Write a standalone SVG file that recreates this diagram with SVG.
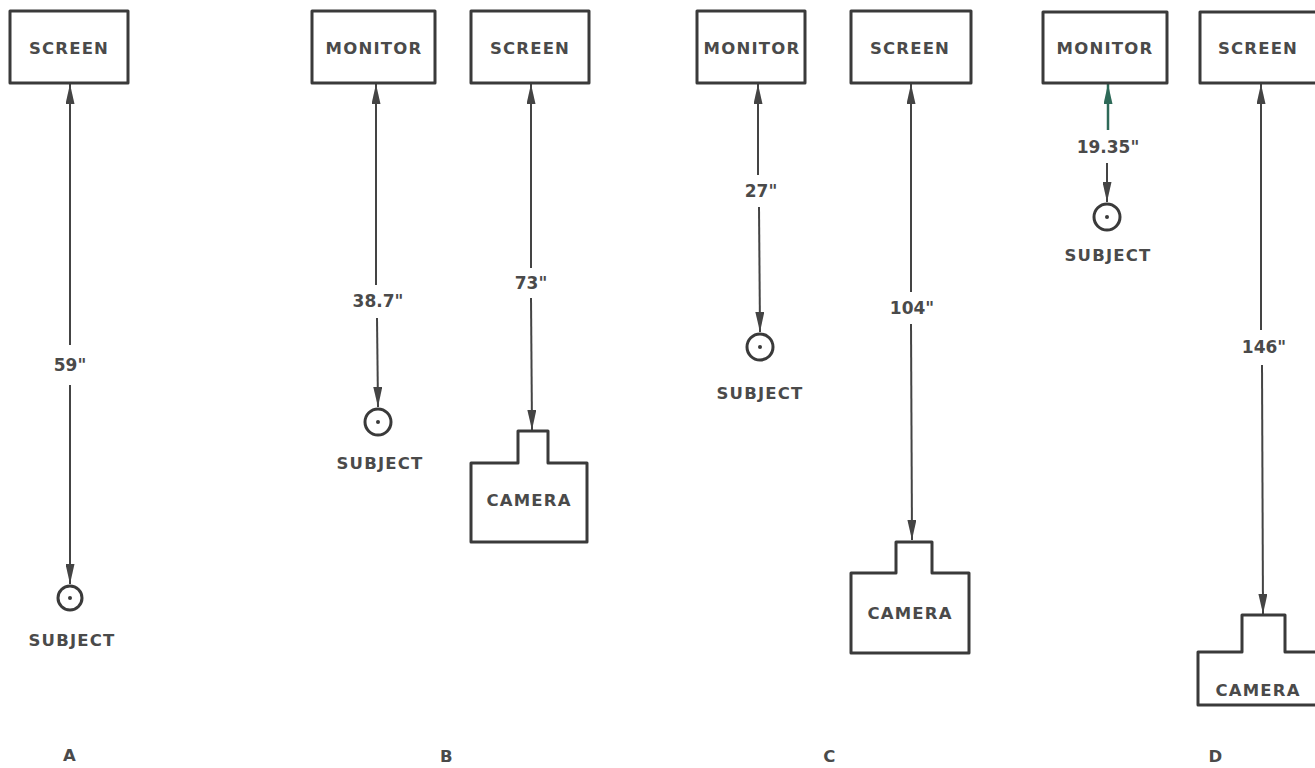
<svg xmlns="http://www.w3.org/2000/svg" width="1315" height="768" viewBox="0 0 1315 768">
<defs>
<style>
.box{fill:none;stroke:#3a3a3a;stroke-width:3;stroke-linejoin:round}
.ln{stroke:#444;stroke-width:2;fill:none}
.t{font-family:"DejaVu Sans",sans-serif;font-weight:bold;font-size:16.5px;fill:#4a4a4a;text-anchor:middle;dominant-baseline:central;letter-spacing:1.2px}
.lab{font-family:"DejaVu Sans",sans-serif;font-weight:bold;font-size:17px;fill:#4a4a4a;text-anchor:middle;dominant-baseline:central}
.subj{fill:none;stroke:#3a3a3a;stroke-width:3}
</style>
<marker id="ah" viewBox="0 0 20 9" refX="20" refY="4.5" markerWidth="20" markerHeight="9" markerUnits="userSpaceOnUse" orient="auto">
<path d="M0,0 L20,4.5 L0,9 Z" fill="#444"/>
</marker>
<marker id="ahg" viewBox="0 0 20 9" refX="20" refY="4.5" markerWidth="20" markerHeight="9" markerUnits="userSpaceOnUse" orient="auto">
<path d="M0,0 L20,4.5 L0,9 Z" fill="#2e6a58"/>
</marker>
</defs>
<rect width="1315" height="768" fill="#fff"/>

<g id="connectors">
<line class="ln" x1="70" y1="345" x2="70" y2="84" marker-end="url(#ah)"/>
<line class="ln" x1="70" y1="385" x2="70" y2="584" marker-end="url(#ah)"/>
<line class="ln" x1="376" y1="285" x2="376" y2="84" marker-end="url(#ah)"/>
<line class="ln" x1="377" y1="318" x2="378" y2="407" marker-end="url(#ah)"/>
<line class="ln" x1="531" y1="268" x2="531" y2="84" marker-end="url(#ah)"/>
<line class="ln" x1="531" y1="298" x2="532" y2="430" marker-end="url(#ah)"/>
<line class="ln" x1="758" y1="175" x2="758" y2="84" marker-end="url(#ah)"/>
<line class="ln" x1="759" y1="207" x2="760" y2="332" marker-end="url(#ah)"/>
<line class="ln" x1="911" y1="292" x2="911" y2="84" marker-end="url(#ah)"/>
<line class="ln" x1="911" y1="324" x2="912" y2="540" marker-end="url(#ah)"/>
<line x1="1108" y1="130" x2="1108" y2="84" stroke="#2e6a58" stroke-width="2.5" marker-end="url(#ahg)"/>
<line class="ln" x1="1107" y1="163" x2="1107" y2="202" marker-end="url(#ah)"/>
<line class="ln" x1="1261" y1="330" x2="1261" y2="84" marker-end="url(#ah)"/>
<line class="ln" x1="1262" y1="365" x2="1263" y2="614" marker-end="url(#ah)"/>
<text class="lab" x="70" y="365">59"</text>
<text class="lab" x="378" y="301">38.7"</text>
<text class="lab" x="531" y="283">73"</text>
<text class="lab" x="761" y="191">27"</text>
<text class="lab" x="912" y="308">104"</text>
<text class="lab" x="1108" y="147">19.35"</text>
<text class="lab" x="1264" y="347">146"</text>
</g>

<g id="a-screen"><rect class="box" x="10" y="11" width="118" height="72"/><text class="t" x="69" y="48">SCREEN</text></g>
<g id="a-subject"><circle class="subj" cx="70" cy="598" r="12"/><circle cx="70" cy="598" r="2" fill="#3a3a3a"/><text class="t" x="72" y="640">SUBJECT</text></g>
<text class="t" x="70" y="755">A</text>

<g id="b-monitor"><rect class="box" x="312" y="11" width="123" height="72"/><text class="t" x="374" y="48">MONITOR</text></g>
<g id="b-subject"><circle class="subj" cx="378" cy="422" r="13"/><circle cx="378" cy="422" r="2" fill="#3a3a3a"/><text class="t" x="380" y="463">SUBJECT</text></g>
<g id="b-screen"><rect class="box" x="471" y="11" width="118" height="72"/><text class="t" x="530" y="48">SCREEN</text></g>
<g id="b-camera"><path class="box" d="M518,463 V431 H548 V463 H587 V542 H471 V463 Z"/><text class="t" x="529" y="500">CAMERA</text></g>
<text class="t" x="447" y="756">B</text>

<g id="c-monitor"><rect class="box" x="697" y="11" width="108" height="72"/><text class="t" x="752" y="48">MONITOR</text></g>
<g id="c-subject"><circle class="subj" cx="760" cy="347" r="13"/><circle cx="760" cy="347" r="2" fill="#3a3a3a"/><text class="t" x="760" y="393">SUBJECT</text></g>
<g id="c-screen"><rect class="box" x="851" y="11" width="120" height="72"/><text class="t" x="910" y="48">SCREEN</text></g>
<g id="c-camera"><path class="box" d="M896,573 V542 H932 V573 H969 V653 H851 V573 Z"/><text class="t" x="910" y="613">CAMERA</text></g>
<text class="t" x="830" y="756">C</text>

<g id="d-monitor"><rect class="box" x="1043" y="12" width="124" height="71"/><text class="t" x="1105" y="48">MONITOR</text></g>
<g id="d-subject"><circle class="subj" cx="1107" cy="217" r="13"/><circle cx="1107" cy="217" r="2" fill="#3a3a3a"/><text class="t" x="1108" y="255">SUBJECT</text></g>
<g id="d-screen"><path class="box" d="M1318,12 H1200 V83 H1318"/><text class="t" x="1258" y="48">SCREEN</text></g>
<g id="d-camera"><path class="box" d="M1318,652 H1285 V615 H1242 V652 H1198 V705 H1318"/><text class="t" x="1258" y="690">CAMERA</text></g>
<text class="t" x="1216" y="756">D</text>
</svg>
